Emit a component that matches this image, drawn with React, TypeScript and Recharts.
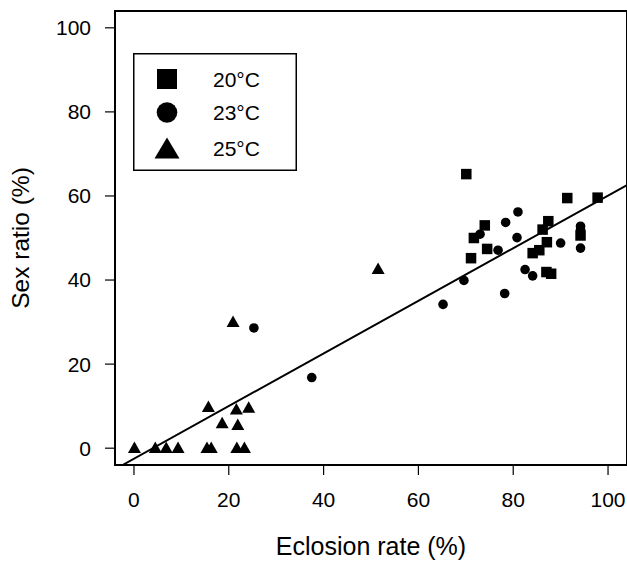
import React from 'react';
import { ScatterChart, Scatter, XAxis, YAxis, ReferenceArea, Legend } from 'recharts';

const xTicks = [0, 20, 40, 60, 80, 100];
const yTicks = [0, 20, 40, 60, 80, 100];
const seriesNames = ['20°C', '23°C', '25°C'];

const sq20x = [70.1, 91.4, 97.8, 74.0, 87.4, 86.2, 71.7, 94.2, 74.5, 87.1, 85.5, 84.1, 71.1, 87.0, 88.0];
const sq20y = [65.2, 59.5, 59.6, 53.0, 54.0, 52.0, 50.0, 50.6, 47.4, 49.0, 47.1, 46.4, 45.2, 41.9, 41.5];

const c23x = [25.3, 37.5, 65.2, 69.6, 73.0, 76.8, 78.4, 78.2, 81.0, 80.8, 82.5, 84.1, 90.0, 94.2, 94.2, 94.2];
const c23y = [28.6, 16.8, 34.2, 39.9, 50.9, 47.1, 53.7, 36.8, 56.2, 50.1, 42.5, 41.0, 48.8, 52.8, 52.0, 47.6];

const t25x = [0.1, 4.5, 6.8, 9.3, 15.4, 16.3, 21.7, 23.3, 20.9, 51.5, 15.7, 21.6, 24.2, 18.6, 21.9];
const t25y = [0.2, 0.2, 0.2, 0.2, 0.2, 0.2, 0.2, 0.2, 30.2, 42.8, 10.0, 9.4, 9.8, 6.1, 5.7];

// regression line end points
const fitX = [-2.4, 104];
const fitY = [-4.0, 62.6];

const toPts = (xs: number[], ys: number[]) => xs.map((x, i) => ({ x, y: ys[i] }));
const d20 = toPts(sq20x, sq20y);
const d23 = toPts(c23x, c23y);
const d25 = toPts(t25x, t25y);
const dFit = toPts(fitX, fitY);

const FONT = '"Liberation Sans", Arial, Helvetica, sans-serif';

const SquareShape = (p: any) => {
  const s = 10.5;
  return <rect x={p.cx - s / 2} y={p.cy - s / 2} width={s} height={s} fill="#000" />;
};
const CircleShape = (p: any) => <circle cx={p.cx} cy={p.cy} r={4.8} fill="#000" />;
const TriShape = (p: any) => {
  const w = 13, h = 11.5;
  return (
    <polygon
      points={`${p.cx},${p.cy - h / 2} ${p.cx - w / 2},${p.cy + h / 2} ${p.cx + w / 2},${p.cy + h / 2}`}
      fill="#000"
    />
  );
};
const NoShape = () => <g />;

const LegendBox = () => {
  const rows = [26, 59.5, 95];
  const mx = 34;
  return (
    <svg width={164} height={118} style={{ display: 'block' }}>
      <rect x={0.75} y={0.75} width={162.5} height={116.5} fill="#fff" stroke="#000" strokeWidth={1.5} />
      <rect x={mx - 10} y={rows[0] - 10} width={20} height={20} fill="#000" />
      <circle cx={mx} cy={rows[1]} r={10.3} fill="#000" />
      <polygon points={`${mx},${rows[2] - 10.5} ${mx - 12.5},${rows[2] + 10.5} ${mx + 12.5},${rows[2] + 10.5}`} fill="#000" />
      {seriesNames.map((n, i) => (
        <text key={n} x={80} y={rows[i]} dy="0.36em" fontSize={21} fontFamily={FONT} fill="#000">
          {n}
        </text>
      ))}
    </svg>
  );
};

const YTitle = (props: any) => {
  const vb = props.viewBox || { x: 0, y: 11, width: 115, height: 454 };
  const cx = vb.x + 28.5;
  const cy = vb.y + vb.height / 2;
  return (
    <text x={cx} y={cy} transform={`rotate(-90 ${cx} ${cy})`} textAnchor="middle" fontSize={24.5} fontFamily={FONT} fill="#000">
      Sex ratio (%)
    </text>
  );
};

const XTitle = (props: any) => {
  const vb = props.viewBox || { x: 115, y: 465, width: 512, height: 100 };
  const cx = vb.x + vb.width / 2;
  const cy = vb.y + 90;
  return (
    <text x={cx} y={cy} textAnchor="middle" fontSize={25} fontFamily={FONT} fill="#000">
      Eclosion rate (%)
    </text>
  );
};

export default function App() {
  return (
    <div style={{ position: 'absolute', left: 0, top: 0, width: 627, height: 565, background: '#fff', overflow: 'hidden' }}>
      <ScatterChart width={627} height={565} margin={{ top: 11, right: 0, bottom: 0, left: 0 }}>
        <XAxis
          type="number"
          dataKey="x"
          domain={[-4, 104]}
          ticks={xTicks}
          allowDataOverflow
          axisLine={false}
          tickLine={{ stroke: '#000', strokeWidth: 1.2 }}
          tickSize={10}
          tickMargin={17}
          height={100}
          tick={{ fill: '#000', fontSize: 21, fontFamily: FONT }}
          label={{ content: XTitle }}
        />
        <YAxis
          type="number"
          dataKey="y"
          domain={[-4, 104]}
          ticks={yTicks}
          allowDataOverflow
          axisLine={false}
          tickLine={{ stroke: '#000', strokeWidth: 1.2 }}
          tickSize={10}
          tickMargin={14}
          width={115}
          tick={{ fill: '#000', fontSize: 21, fontFamily: FONT }}
          label={{ content: YTitle }}
        />
        <ReferenceArea x1={-4} x2={104} y1={-4} y2={104} fill="none" fillOpacity={0} stroke="#000" strokeWidth={2} ifOverflow="visible" />
        <Scatter data={dFit} line={{ stroke: '#000', strokeWidth: 2 }} lineType="joint" shape={NoShape} isAnimationActive={false} legendType="none" />
        <Scatter name={seriesNames[0]} data={d20} shape={SquareShape} isAnimationActive={false} />
        <Scatter name={seriesNames[1]} data={d23} shape={CircleShape} isAnimationActive={false} />
        <Scatter name={seriesNames[2]} data={d25} shape={TriShape} isAnimationActive={false} />
        <Legend
          layout="horizontal"
          verticalAlign="middle"
          align="center"
          content={() => <LegendBox />}
          wrapperStyle={{ position: 'absolute', left: 133, top: 53, right: 'auto', bottom: 'auto', width: 164, height: 118, margin: 0, padding: 0 }}
        />
      </ScatterChart>
    </div>
  );
}
